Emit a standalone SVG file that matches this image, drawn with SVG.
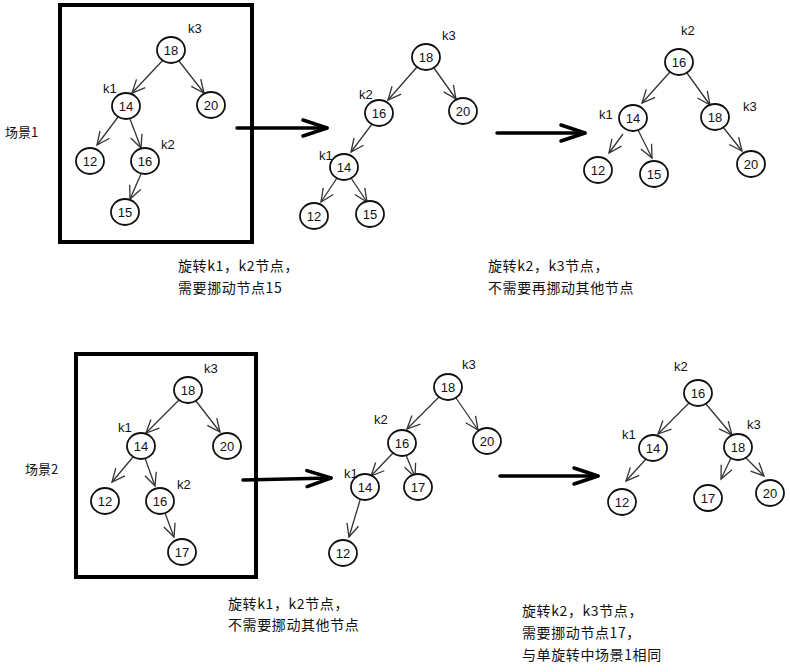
<svg xmlns="http://www.w3.org/2000/svg" width="790" height="672" viewBox="0 0 790 672">
<defs>
<marker id="ah" markerUnits="userSpaceOnUse" markerWidth="16" markerHeight="14" viewBox="0 0 16 14" refX="14" refY="7" orient="auto">
<path d="M1,1 L14,7 L1,13" fill="none" stroke="#333" stroke-width="1.3"/>
</marker>
<marker id="big" markerUnits="userSpaceOnUse" markerWidth="30" markerHeight="22" viewBox="0 0 30 22" refX="27" refY="11" orient="auto">
<path d="M3,3 L27,11 L3,19" fill="none" stroke="#000" stroke-width="3.5" stroke-linejoin="round" stroke-linecap="round"/>
</marker>
</defs>
<style>
.n ellipse{fill:#fff;stroke:#111;stroke-width:1.8}
.n text{font-family:"Liberation Sans",Arial,sans-serif;font-size:13px;text-anchor:middle;fill:#111}
.k{font-family:"Liberation Sans",Arial,sans-serif;font-size:13px;fill:#111}
.c line{stroke:#333;stroke-width:1.3;marker-end:url(#ah)}
.b line{stroke:#000;stroke-width:3.5;stroke-linecap:round;marker-end:url(#big)}
.box{fill:none;stroke:#000;stroke-width:4}
.t{font-family:"Noto Sans CJK SC",sans-serif;font-size:14px;fill:#111;letter-spacing:0.6px}
.s{font-family:"Noto Sans CJK SC",sans-serif;font-size:13px;fill:#111}
</style>
<rect width="790" height="672" fill="#fff"/>

<rect class="box" x="60" y="5" width="192" height="237"/>
<rect class="box" x="76" y="354" width="180" height="223"/>

<g id="connectors" class="c">
<!-- scene 1 left -->
<line x1="163" y1="60" x2="132" y2="93"/>
<line x1="179" y1="61" x2="204" y2="93"/>
<line x1="118" y1="117" x2="97" y2="145"/>
<line x1="130" y1="119" x2="141" y2="148"/>
<line x1="141" y1="174" x2="130" y2="199"/>
<!-- scene 1 middle -->
<line x1="417" y1="67" x2="388" y2="100"/>
<line x1="434" y1="68" x2="456" y2="99"/>
<line x1="372" y1="124" x2="351" y2="152"/>
<line x1="337" y1="178" x2="321" y2="202"/>
<line x1="351" y1="178" x2="367" y2="202"/>
<!-- scene 1 right -->
<line x1="670" y1="72" x2="642" y2="103"/>
<line x1="687" y1="73" x2="710" y2="105"/>
<line x1="623" y1="134" x2="609" y2="153"/>
<line x1="638" y1="130" x2="652" y2="158"/>
<line x1="723" y1="127" x2="742" y2="151"/>
<!-- scene 2 left -->
<line x1="179" y1="400" x2="146" y2="433"/>
<line x1="196" y1="401" x2="220" y2="432"/>
<line x1="133" y1="457" x2="112" y2="482"/>
<line x1="145" y1="458" x2="155" y2="486"/>
<line x1="165" y1="513" x2="174" y2="537"/>
<!-- scene 2 middle -->
<line x1="439" y1="397" x2="407" y2="429"/>
<line x1="456" y1="398" x2="478" y2="430"/>
<line x1="393" y1="453" x2="371" y2="476"/>
<line x1="406" y1="455" x2="415" y2="477"/>
<line x1="361" y1="497" x2="349" y2="537"/>
<!-- scene 2 right -->
<line x1="689" y1="403" x2="658" y2="434"/>
<line x1="706" y1="404" x2="732" y2="435"/>
<line x1="646" y1="459" x2="626" y2="481"/>
<line x1="731" y1="458" x2="721" y2="479"/>
<line x1="746" y1="458" x2="764" y2="476"/>
</g>

<g id="big-arrows" class="b">
<line x1="237" y1="128" x2="327" y2="128"/>
<line x1="497" y1="133" x2="585" y2="133"/>
<line x1="243" y1="480" x2="331" y2="478"/>
<line x1="500" y1="476" x2="598" y2="476"/>
</g>

<!-- scene 1 left -->
<g id="s1a-18" class="n"><ellipse cx="171" cy="50" rx="14" ry="13"/><text x="171" y="55">18</text></g>
<g id="s1a-14" class="n"><ellipse cx="126" cy="106" rx="14" ry="13"/><text x="126" y="111">14</text></g>
<g id="s1a-20" class="n"><ellipse cx="211" cy="105" rx="14" ry="13"/><text x="211" y="110">20</text></g>
<g id="s1a-12" class="n"><ellipse cx="90" cy="161" rx="14" ry="13"/><text x="90" y="166">12</text></g>
<g id="s1a-16" class="n"><ellipse cx="145" cy="161" rx="14" ry="13"/><text x="145" y="166">16</text></g>
<g id="s1a-15" class="n"><ellipse cx="125" cy="212" rx="14" ry="13"/><text x="125" y="217">15</text></g>
<text class="k" x="188" y="33">k3</text>
<text class="k" x="103" y="93">k1</text>
<text class="k" x="161" y="149">k2</text>

<!-- scene 1 middle -->
<g id="s1b-18" class="n"><ellipse cx="426" cy="57" rx="14" ry="13"/><text x="426" y="62">18</text></g>
<g id="s1b-16" class="n"><ellipse cx="379" cy="113" rx="14" ry="13"/><text x="379" y="118">16</text></g>
<g id="s1b-20" class="n"><ellipse cx="463" cy="111" rx="14" ry="13"/><text x="463" y="116">20</text></g>
<g id="s1b-14" class="n"><ellipse cx="344" cy="167" rx="14" ry="13"/><text x="344" y="172">14</text></g>
<g id="s1b-12" class="n"><ellipse cx="314" cy="216" rx="14" ry="13"/><text x="314" y="221">12</text></g>
<g id="s1b-15" class="n"><ellipse cx="370" cy="214" rx="14" ry="13"/><text x="370" y="219">15</text></g>
<text class="k" x="442" y="40">k3</text>
<text class="k" x="359" y="99">k2</text>
<text class="k" x="319" y="160">k1</text>

<!-- scene 1 right -->
<g id="s1c-16" class="n"><ellipse cx="679" cy="62" rx="14" ry="13"/><text x="679" y="67">16</text></g>
<g id="s1c-14" class="n"><ellipse cx="633" cy="118" rx="14" ry="13"/><text x="633" y="123">14</text></g>
<g id="s1c-18" class="n"><ellipse cx="715" cy="117" rx="14" ry="13"/><text x="715" y="122">18</text></g>
<g id="s1c-12" class="n"><ellipse cx="598" cy="170" rx="14" ry="13"/><text x="598" y="175">12</text></g>
<g id="s1c-15" class="n"><ellipse cx="654" cy="174" rx="14" ry="13"/><text x="654" y="179">15</text></g>
<g id="s1c-20" class="n"><ellipse cx="751" cy="164" rx="14" ry="13"/><text x="751" y="169">20</text></g>
<text class="k" x="681" y="35">k2</text>
<text class="k" x="599" y="119">k1</text>
<text class="k" x="743" y="111">k3</text>

<!-- scene 2 left -->
<g id="s2a-18" class="n"><ellipse cx="188" cy="390" rx="14" ry="13"/><text x="188" y="395">18</text></g>
<g id="s2a-14" class="n"><ellipse cx="141" cy="446" rx="14" ry="13"/><text x="141" y="451">14</text></g>
<g id="s2a-20" class="n"><ellipse cx="227" cy="446" rx="14" ry="13"/><text x="227" y="451">20</text></g>
<g id="s2a-12" class="n"><ellipse cx="105" cy="501" rx="14" ry="13"/><text x="105" y="506">12</text></g>
<g id="s2a-16" class="n"><ellipse cx="160" cy="501" rx="14" ry="13"/><text x="160" y="506">16</text></g>
<g id="s2a-17" class="n"><ellipse cx="182" cy="552" rx="14" ry="13"/><text x="182" y="557">17</text></g>
<text class="k" x="204" y="373">k3</text>
<text class="k" x="118" y="432">k1</text>
<text class="k" x="177" y="489">k2</text>

<!-- scene 2 middle -->
<g id="s2b-18" class="n"><ellipse cx="448" cy="387" rx="14" ry="13"/><text x="448" y="392">18</text></g>
<g id="s2b-16" class="n"><ellipse cx="402" cy="443" rx="14" ry="13"/><text x="402" y="448">16</text></g>
<g id="s2b-20" class="n"><ellipse cx="487" cy="441" rx="14" ry="13"/><text x="487" y="446">20</text></g>
<g id="s2b-14" class="n"><ellipse cx="365" cy="487" rx="14" ry="13"/><text x="365" y="492">14</text></g>
<g id="s2b-17" class="n"><ellipse cx="418" cy="487" rx="14" ry="13"/><text x="418" y="492">17</text></g>
<g id="s2b-12" class="n"><ellipse cx="343" cy="553" rx="14" ry="13"/><text x="343" y="558">12</text></g>
<text class="k" x="462" y="369">k3</text>
<text class="k" x="374" y="424">k2</text>
<text class="k" x="344" y="478">k1</text>

<!-- scene 2 right -->
<g id="s2c-16" class="n"><ellipse cx="698" cy="393" rx="14" ry="13"/><text x="698" y="398">16</text></g>
<g id="s2c-14" class="n"><ellipse cx="653" cy="448" rx="14" ry="13"/><text x="653" y="453">14</text></g>
<g id="s2c-18" class="n"><ellipse cx="738" cy="447" rx="14" ry="13"/><text x="738" y="452">18</text></g>
<g id="s2c-12" class="n"><ellipse cx="622" cy="502" rx="14" ry="13"/><text x="622" y="507">12</text></g>
<g id="s2c-17" class="n"><ellipse cx="708" cy="498" rx="14" ry="13"/><text x="708" y="503">17</text></g>
<g id="s2c-20" class="n"><ellipse cx="770" cy="493" rx="14" ry="13"/><text x="770" y="498">20</text></g>
<text class="k" x="674" y="371">k2</text>
<text class="k" x="622" y="439">k1</text>
<text class="k" x="747" y="429">k3</text>

<text class="s" x="5" y="137">场景1</text>
<text class="s" x="25" y="474">场景2</text>

<text class="t" x="178" y="271">旋转k1，k2节点，</text>
<text class="t" x="178" y="293">需要挪动节点15</text>
<text class="t" x="488" y="271">旋转k2，k3节点，</text>
<text class="t" x="488" y="293">不需要再挪动其他节点</text>

<text class="t" x="228" y="609">旋转k1，k2节点，</text>
<text class="t" x="228" y="630">不需要挪动其他节点</text>
<text class="t" x="522" y="616">旋转k2，k3节点，</text>
<text class="t" x="522" y="638">需要挪动节点17，</text>
<text class="t" x="522" y="660">与单旋转中场景1相同</text>
</svg>
